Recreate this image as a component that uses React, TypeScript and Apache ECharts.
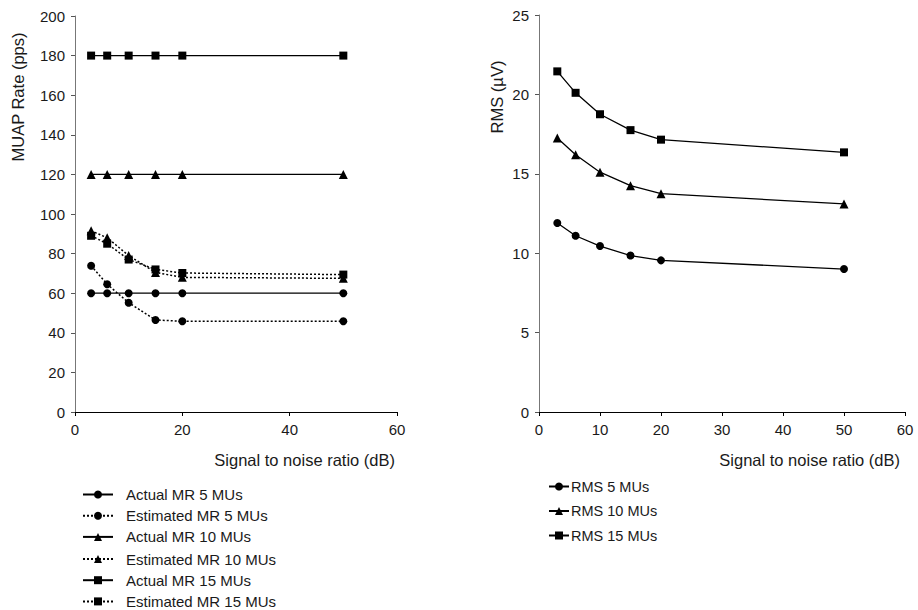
import React, { useEffect, useRef } from "react";
import * as echarts from "echarts";

const snr = [3, 6, 10, 15, 20, 50];

const actualMR5 = [60, 60, 60, 60, 60, 60];
const estimatedMR5 = [73.9, 64.5, 55.2, 46.5, 45.8, 45.8];
const actualMR10 = [120, 120, 120, 120, 120, 120];
const estimatedMR10 = [91.5, 88, 79, 70.5, 68, 67.5];
const actualMR15 = [180, 180, 180, 180, 180, 180];
const estimatedMR15 = [89, 85, 77, 72, 70.2, 69.4];

const rms5 = [11.9, 11.1, 10.45, 9.85, 9.55, 9.0];
const rms10 = [17.25, 16.2, 15.1, 14.25, 13.75, 13.1];
const rms15 = [21.45, 20.1, 18.75, 17.75, 17.15, 16.35];

const leftNames = [
  "Actual MR 5 MUs",
  "Estimated MR 5 MUs",
  "Actual MR 10 MUs",
  "Estimated MR 10 MUs",
  "Actual MR 15 MUs",
  "Estimated MR 15 MUs",
];
const rightNames = ["RMS 5 MUs", "RMS 10 MUs", "RMS 15 MUs"];

const xTitle = "Signal to noise ratio (dB)";
const leftYTitle = "MUAP Rate (pps)";
const rightYTitle = "RMS (µV)";

const FONT = "'Liberation Sans', Arial, sans-serif";
const TXT = "#1a1a1a";

function pairs(vals: number[]) {
  return snr.map((x, i) => [x, vals[i]]);
}

function mkSeries(
  name: string,
  vals: number[],
  symbol: string,
  size: number,
  dotted: boolean,
  axis: number
) {
  return {
    type: "line",
    name,
    xAxisIndex: axis,
    yAxisIndex: axis,
    data: pairs(vals),
    symbol,
    symbolSize: size,
    showSymbol: true,
    itemStyle: { color: "#000" },
    lineStyle: {
      color: "#000",
      width: dotted ? 1.5 : 1.3,
      type: dotted ? [2, 2] : "solid",
    },
    emphasis: { disabled: true },
    silent: true,
  };
}

export default function App() {
  const ref = useRef<HTMLDivElement>(null);
  useEffect(() => {
    if (!ref.current) return;
    const chart = echarts.init(ref.current, undefined, { renderer: "svg" });
    const axisLabel = { color: TXT, fontSize: 15, fontFamily: FONT };
    const xCommon = {
      type: "value",
      min: 0,
      max: 60,
      axisLine: { show: true, lineStyle: { color: "#000", width: 1 } },
      axisTick: { show: true, inside: false, length: 4, lineStyle: { color: "#000" } },
      axisLabel: { ...axisLabel, margin: 10 },
      splitLine: { show: false },
    };
    const yCommon = {
      type: "value",
      min: 0,
      axisLine: { show: true, lineStyle: { color: "#777", width: 1 } },
      axisTick: { show: true, inside: false, length: 4, lineStyle: { color: "#555" } },
      axisLabel: { ...axisLabel, margin: 10 },
      splitLine: { show: false },
    };
    const leftLegend = (names: string[], top: number) => ({
      orient: "vertical",
      left: 82,
      top,
      padding: 0,
      itemWidth: 30,
      itemHeight: 10,
      itemGap: 6.2,
      data: names,
      selectedMode: false,
      textStyle: {
        color: TXT,
        fontSize: 15,
        lineHeight: 14,
        fontFamily: FONT,
        padding: [0, 0, 0, 8],
      },
    });
    const option: any = {
      animation: false,
      backgroundColor: "#fff",
      grid: [
        { left: 75, top: 16, width: 322, height: 396 },
        { left: 539, top: 15, width: 366, height: 397 },
      ],
      xAxis: [
        { ...xCommon, gridIndex: 0, interval: 20 },
        { ...xCommon, gridIndex: 1, interval: 10 },
      ],
      yAxis: [
        { ...yCommon, gridIndex: 0, max: 200, interval: 20 },
        { ...yCommon, gridIndex: 1, max: 25, interval: 5 },
      ],
      legend: [
        leftLegend(leftNames.slice(0, 3), 487),
        leftLegend(leftNames.slice(3, 6), 551.5),
        {
          orient: "vertical",
          left: 548,
          top: 479,
          padding: 0,
          itemWidth: 20,
          itemHeight: 10,
          itemGap: 9.5,
          data: rightNames,
          selectedMode: false,
          textStyle: {
            color: TXT,
            fontSize: 14.5,
            lineHeight: 15,
            fontFamily: FONT,
            padding: [0, 0, 0, -3],
          },
        },
      ],
      graphic: [
        {
          type: "text",
          x: 395,
          y: 460,
          style: {
            text: xTitle,
            fill: TXT,
            font: `16.5px ${FONT}`,
            textAlign: "right",
            textVerticalAlign: "middle",
          },
        },
        {
          type: "text",
          x: 900,
          y: 460,
          style: {
            text: xTitle,
            fill: TXT,
            font: `16.5px ${FONT}`,
            textAlign: "right",
            textVerticalAlign: "middle",
          },
        },
        {
          type: "text",
          x: 18,
          y: 97,
          rotation: Math.PI / 2,
          style: {
            text: leftYTitle,
            fill: TXT,
            font: `16.5px ${FONT}`,
            textAlign: "center",
            textVerticalAlign: "middle",
          },
        },
        {
          type: "text",
          x: 497,
          y: 97,
          rotation: Math.PI / 2,
          style: {
            text: rightYTitle,
            fill: TXT,
            font: `16.5px ${FONT}`,
            textAlign: "center",
            textVerticalAlign: "middle",
          },
        },
      ],
      series: [
        mkSeries(leftNames[0], actualMR5, "circle", 8, false, 0),
        mkSeries(leftNames[1], estimatedMR5, "circle", 8, true, 0),
        mkSeries(leftNames[2], actualMR10, "triangle", 9, false, 0),
        mkSeries(leftNames[3], estimatedMR10, "triangle", 9, true, 0),
        mkSeries(leftNames[4], actualMR15, "rect", 8, false, 0),
        mkSeries(leftNames[5], estimatedMR15, "rect", 8, true, 0),
        mkSeries(rightNames[0], rms5, "circle", 8, false, 1),
        mkSeries(rightNames[1], rms10, "triangle", 9, false, 1),
        mkSeries(rightNames[2], rms15, "rect", 8, false, 1),
      ],
    };
    chart.setOption(option);
    return () => chart.dispose();
  }, []);
  return (
    <div
      ref={ref}
      style={{ position: "fixed", left: 0, top: 0, width: 918, height: 610, background: "#fff" }}
    />
  );
}
